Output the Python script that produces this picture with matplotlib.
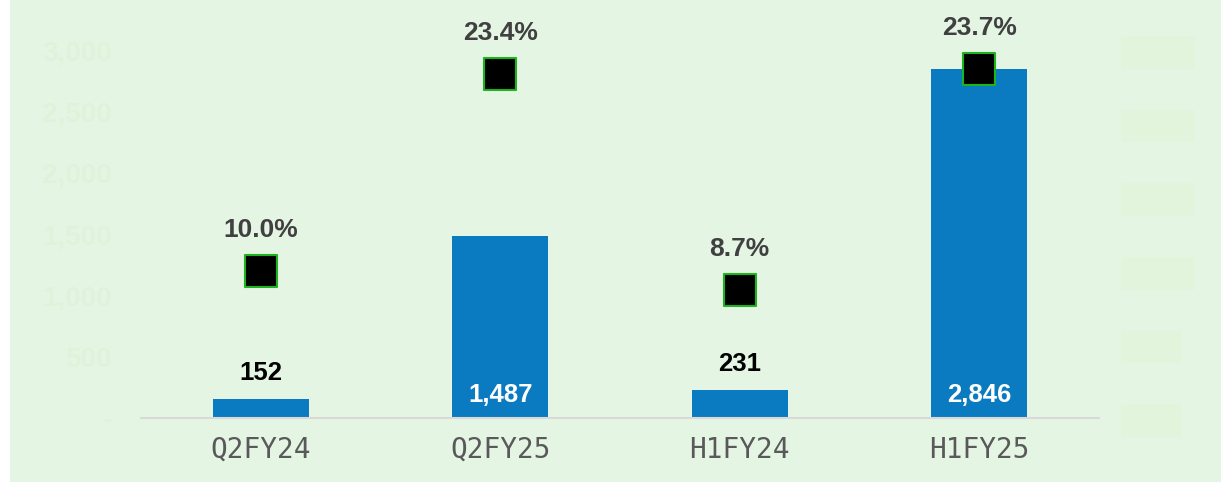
import numpy as np
import matplotlib.pyplot as plt

categories = ['Q2FY24', 'Q2FY25', 'H1FY24', 'H1FY25']
values = [152, 1487, 231, 2846]
margins = [10.0, 23.4, 8.7, 23.7]
left_ticks = [0, 500, 1000, 1500, 2000, 2500, 3000]
right_ticks = [0, 5, 10, 15, 20, 25]

bg = '#E5F5E3'
faint = '#E0F3DA'
block = '#E2F4DC'
bar_color = '#0A7BC1'

fig = plt.figure(figsize=(12.21, 4.82), dpi=100)
fig.patch.set_facecolor('white')
# green panel (white strip on the left)
fig.patches.append(plt.Rectangle((10/1221, 0), 1 - 10/1221, 1, transform=fig.transFigure,
                                 facecolor=bg, edgecolor='none', zorder=-5))

ax = fig.add_axes([141/1221, (482-418)/482, (1099-141)/1221, 368/482])
ax.set_facecolor('none')
x = np.arange(len(categories))
bars = ax.bar(x, values, width=0.4, color=bar_color, zorder=2)
ax.set_xlim(-0.5, 3.5)
ax.set_ylim(0, 3000)

for xi, v in zip(x, values):
    if v > 1000:
        ax.text(xi, 185, f'{v:,}', ha='center', va='center', color='white',
                fontsize=18.5, fontweight='bold', family='Liberation Sans')
    else:
        ax.annotate(f'{v:,}', (xi, v), xytext=(0, 26), textcoords='offset pixels',
                    ha='center', va='center', color='black',
                    fontsize=18.5, fontweight='bold', family='Liberation Sans')

ax.set_xticks(x)
ax.set_xticklabels(categories, family='DejaVu Sans Mono', fontsize=20, color='#595959')
ax.set_yticks(left_ticks)
ax.set_yticklabels([f'{t:,}' if t else '-' for t in left_ticks], fontsize=20,
                   fontweight='bold', family='Liberation Sans', color=faint)
ax.tick_params(axis='both', length=0)
ax.tick_params(axis='x', pad=13)
ax.tick_params(axis='y', pad=21)
for s in ['top', 'right', 'left']:
    ax.spines[s].set_visible(False)
ax.spines['bottom'].set_color('#D9D9D9')
ax.spines['bottom'].set_linewidth(1.5)

ax2 = ax.twinx()
ax2.set_ylim(0, 25)
ax2.scatter(x, margins, marker='s', s=560, color='black', edgecolor='#1DB31D',
            linewidth=1.5, zorder=3)
for xi, m in zip(x, margins):
    ax2.annotate(f'{m:.1f}%', (xi, m), xytext=(0, 41), textcoords='offset pixels',
                 ha='center', va='center', color='#404040',
                 fontsize=19, fontweight='bold', family='Liberation Sans')
ax2.set_yticks(right_ticks)
ax2.set_yticklabels([f'{t:.1f}%' for t in right_ticks], fontsize=16.5, family='Liberation Sans',
                    color=block, fontweight='bold')
for lbl in ax2.get_yticklabels():
    lbl.set_bbox(dict(facecolor=block, edgecolor='none', pad=3.5))
ax2.tick_params(axis='y', length=0, pad=19)
for s in ax2.spines.values():
    s.set_visible(False)

fig.savefig('out.png', dpi=100, facecolor=fig.get_facecolor())
